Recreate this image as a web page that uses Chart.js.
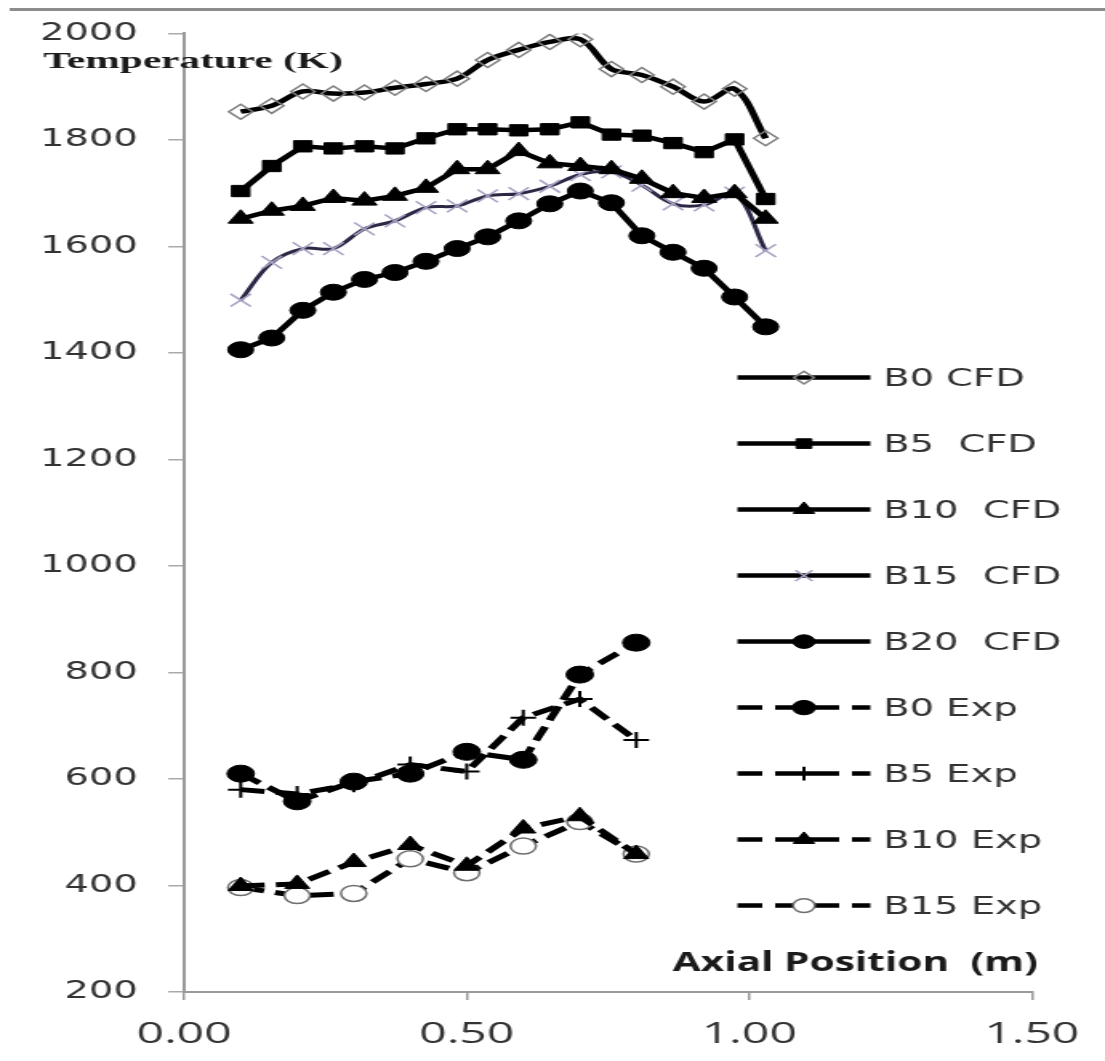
<!DOCTYPE html>
<html><head><meta charset="utf-8">
<script src="https://cdn.jsdelivr.net/npm/chart.js@4.4.1/dist/chart.umd.min.js"></script>
<style>
html,body{margin:0;padding:0;background:#fff;overflow:hidden;}
#wrap{width:1105px;height:1061px;overflow:hidden;background:#fff;}
#c{display:block;transform:scaleX(1.60145);transform-origin:0 0;}
</style></head><body>
<div id="wrap"><canvas id="c" width="690" height="1061"></canvas></div>
<script>
// ---- data ----
const cfdX   = [0.100,0.155,0.210,0.264,0.319,0.373,0.428,0.483,0.537,0.592,0.647,0.701,0.756,0.810,0.865,0.920,0.974,1.029];
const b0CFD  = [1853,1864,1891,1887,1889,1898,1905,1915,1950,1969,1984,1989,1933,1922,1900,1872,1896,1803];
const b5CFD  = [1704,1751,1788,1784,1788,1784,1803,1820,1820,1818,1820,1833,1810,1808,1794,1777,1801,1689];
const b10CFD = [1652,1667,1676,1691,1686,1695,1710,1745,1745,1779,1756,1751,1745,1727,1700,1691,1700,1652];
const b15CFD = [1499,1570,1596,1596,1633,1648,1673,1676,1695,1699,1713,1735,1740,1715,1680,1678,1700,1592];
const b20CFD = [1406,1428,1480,1514,1538,1551,1572,1596,1618,1648,1680,1704,1682,1620,1589,1559,1505,1449];
const expX   = [0.1,0.2,0.3,0.4,0.5,0.6,0.7,0.8];
const b0Exp  = [610,558,595,610,651,636,796,856];
const b5Exp  = [580,572,590,627,614,715,750,673];
const b10Exp = [399,403,444,476,437,507,530,459];
const b15Exp = [396,381,385,450,424,474,520,459];
const seriesLabels = ['B0 CFD','B5  CFD','B10  CFD','B15  CFD','B20  CFD','B0 Exp','B5 Exp','B10 Exp','B15 Exp'];
const xTickValues = [0, 0.5, 1.0, 1.5];
const xTickLabels = ['0.00','0.50','1.00','1.50'];
const yTickValues = [200,400,600,800,1000,1200,1400,1600,1800,2000];
const yTickLabels = ['200','400','600','800','1000','1200','1400','1600','1800','2000'];
const yTitle = 'Temperature (K)';
const xTitle = 'Axial Position  (m)';

const pts = (xs, ys) => xs.map((x, i) => ({x: x, y: ys[i]}));
const DASH = [15, 7];

const datasets = [
  {label: seriesLabels[0], data: pts(cfdX, b0CFD), borderColor:'#000', borderWidth:4.5, tension:0.35,
   pointStyle:'rectRot', pointRadius:7.5, pointBorderColor:'#7d7d7d', pointBackgroundColor:'rgba(0,0,0,0)', pointBorderWidth:1.5},
  {label: seriesLabels[1], data: pts(cfdX, b5CFD), borderColor:'#000', borderWidth:4.5, tension:0,
   pointStyle:'rect', pointRadius:8, pointBorderColor:'#000', pointBackgroundColor:'#000', pointBorderWidth:1},
  {label: seriesLabels[2], data: pts(cfdX, b10CFD), borderColor:'#000', borderWidth:4.5, tension:0,
   pointStyle:'triangle', pointRadius:9, pointBorderColor:'#000', pointBackgroundColor:'#000', pointBorderWidth:1},
  {label: seriesLabels[3], data: pts(cfdX, b15CFD), borderColor:'#2b2745', borderWidth:3, tension:0.35,
   pointStyle:'crossRot', pointRadius:9, pointBorderColor:'#a5a1c2', pointBackgroundColor:'#a5a1c2', pointBorderWidth:1.5},
  {label: seriesLabels[4], data: pts(cfdX, b20CFD), borderColor:'#000', borderWidth:4.5, tension:0,
   pointStyle:'circle', pointRadius:8, pointBorderColor:'#000', pointBackgroundColor:'#000', pointBorderWidth:1},
  {label: seriesLabels[5], data: pts(expX, b0Exp), borderColor:'#000', borderWidth:5, borderDash:DASH, tension:0,
   pointStyle:'circle', pointRadius:8.5, pointBorderColor:'#000', pointBackgroundColor:'#000', pointBorderWidth:1},
  {label: seriesLabels[6], data: pts(expX, b5Exp), borderColor:'#000', borderWidth:5, borderDash:DASH, tension:0,
   pointStyle:'cross', pointRadius:8, pointBorderColor:'#000', pointBackgroundColor:'#000', pointBorderWidth:2},
  {label: seriesLabels[7], data: pts(expX, b10Exp), borderColor:'#000', borderWidth:5, borderDash:DASH, tension:0,
   pointStyle:'triangle', pointRadius:9, pointBorderColor:'#000', pointBackgroundColor:'#000', pointBorderWidth:1},
  {label: seriesLabels[8], data: pts(expX, b15Exp), borderColor:'#000', borderWidth:5, borderDash:DASH, tension:0,
   pointStyle:'circle', pointRadius:8, pointBorderColor:'#6e6e6e', pointBackgroundColor:'#fff', pointBorderWidth:1.5}
];
datasets.forEach(d => { d.fill = false; d.pointHoverRadius = d.pointRadius; });

function fitText(ctx, t, x, y, w) {
  const m = ctx.measureText(t).width;
  ctx.save(); ctx.translate(x, y); ctx.scale(w / m, 1); ctx.fillText(t, 0, 0); ctx.restore();
}

const decor = {
  id: 'decor',
  afterDraw(chart) {
    const ctx = chart.ctx;
    ctx.save();
    // frame line at top
    ctx.strokeStyle = '#8c8c8c'; ctx.lineWidth = 3; ctx.setLineDash([]);
    ctx.beginPath(); ctx.moveTo(6, 9.5); ctx.lineTo(690, 9.5); ctx.stroke();
    // axis titles
    ctx.fillStyle = '#1a1a1a'; ctx.textAlign = 'left'; ctx.textBaseline = 'alphabetic';
    ctx.font = 'bold 23px "Liberation Serif"';
    fitText(ctx, yTitle, 27, 68, 187);
    ctx.font = 'bold 26px "Open Sans"';
    fitText(ctx, xTitle, 420, 971, 228);
    // legend
    const x0 = 460.5, x1 = 543.5, xm = 502, y0 = 377.6, dy = 66;
    chart.data.datasets.forEach((d, i) => {
      const y = y0 + i * dy;
      ctx.strokeStyle = '#000'; ctx.lineWidth = 4.5; ctx.setLineDash([]);
      ctx.beginPath();
      if (d.borderDash) {
        [[460.5, 476], [484, 524], [532, 543.5]].forEach(s => { ctx.moveTo(s[0], y); ctx.lineTo(s[1], y); });
      } else {
        ctx.moveTo(x0, y); ctx.lineTo(x1, y);
      }
      ctx.stroke();
      ctx.fillStyle = d.pointBackgroundColor; ctx.strokeStyle = d.pointBorderColor; ctx.lineWidth = d.pointBorderWidth;
      Chart.helpers.drawPoint(ctx, {pointStyle: d.pointStyle, radius: d.pointRadius * 0.85, borderWidth: d.pointBorderWidth, rotation: 0}, xm, y);
      ctx.fillStyle = '#333'; ctx.font = '24px "DejaVu Sans"'; ctx.textAlign = 'left'; ctx.textBaseline = 'alphabetic';
      ctx.fillText(d.label, 551.5, y + 8.5);
    });
    ctx.restore();
  }
};

new Chart(document.getElementById('c'), {
  type: 'line',
  data: {datasets: datasets},
  plugins: [decor],
  options: {
    responsive: false, maintainAspectRatio: false, animation: false,
    layout: {padding: {top: 26, right: 42.5, left: 0, bottom: 0}},
    plugins: {legend: {display: false}, tooltip: {enabled: false}},
    scales: {
      x: {
        type: 'linear', min: 0, max: 1.5,
        afterBuildTicks: s => { s.ticks = xTickValues.map(v => ({value: v})); },
        ticks: {callback: (v, i) => xTickLabels[i], font: {family: 'Open Sans', size: 30}, color: '#333', padding: 16, maxRotation: 0, autoSkip: false},
        grid: {drawOnChartArea: false, drawTicks: true, tickLength: 8, color: '#9a9a9a', lineWidth: 1.5},
        border: {display: true, color: '#9a9a9a', width: 2},
        afterFit: s => { s.height = 69; }
      },
      y: {
        type: 'linear', min: 200, max: 2000,
        afterBuildTicks: s => { s.ticks = yTickValues.map(v => ({value: v})); },
        ticks: {callback: (v, i) => yTickLabels[i], font: {family: 'DejaVu Sans', size: 24}, color: '#333', padding: 19},
        grid: {drawOnChartArea: false, drawTicks: true, tickLength: 10, color: '#aaaaaa', lineWidth: 1.5},
        border: {display: true, color: '#9a9a9a', width: 2},
        afterFit: s => { s.width = 115; }
      }
    }
  }
});
</script>
</body></html>
